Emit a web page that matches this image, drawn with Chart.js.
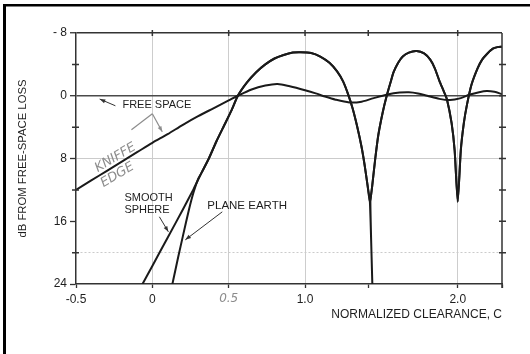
<!DOCTYPE html>
<html>
<head>
<meta charset="utf-8">
<script src="https://cdn.jsdelivr.net/npm/chart.js@4/dist/chart.umd.min.js"></script>
<style>
  html, body { margin: 0; padding: 0; background: #fff; }
  #wrap { width: 530px; height: 354px; }
</style>
</head>
<body>
<div id="wrap"><canvas id="chart" width="530" height="354"></canvas></div>
<script>
// x: normalized clearance C, y: dB from free-space loss (axis reversed)
const xTicks = [-0.5, 0, 0.5, 1.0, 1.414, 2.0, 2.29];
const xTickLabels = ['-0.5', '0', '0.5', '1.0', '', '2.0', ''];
const yTicks = [-8, -4, 0, 4, 8, 12, 16, 20, 24];
const yTickLabels = ['- 8', '', '0', '', '8', '', '16', '', '24'];

const knifeX = [-0.5, -0.4, -0.3, -0.2, -0.1, 0, 0.1, 0.2, 0.3, 0.4, 0.5, 0.56, 0.65, 0.74, 0.82, 0.9, 1.0, 1.07, 1.13, 1.2,
  1.29, 1.36, 1.45, 1.54, 1.62, 1.68, 1.74, 1.8, 1.88, 1.95, 2.02, 2.08, 2.14, 2.19, 2.24, 2.29];
const knifeY = [12.0, 10.8, 9.6, 8.4, 7.2, 6.0, 4.9, 3.7, 2.6, 1.6, 0.6, 0, -0.8, -1.3, -1.5, -1.2, -0.7, -0.3, 0.1, 0.5,
  0.85, 0.8, 0.3, -0.15, -0.4, -0.45, -0.3, 0, 0.4, 0.55, 0.3, -0.15, -0.45, -0.6, -0.5, -0.2];

const smoothX = [-0.07, 0, 0.1, 0.2, 0.27, 0.32, 0.37, 0.42, 0.47, 0.52, 0.56, 0.62, 0.68, 0.74, 0.8, 0.86, 0.92, 0.97, 1.04, 1.1,
  1.16, 1.21, 1.25, 1.28, 1.31, 1.34, 1.37, 1.39, 1.41, 1.425, 1.44, 1.46, 1.48, 1.51, 1.535, 1.56, 1.58, 1.61, 1.64, 1.68,
  1.73, 1.78, 1.82, 1.85, 1.88, 1.91, 1.93, 1.96, 1.98, 2.0, 2.02, 2.04, 2.06, 2.09, 2.13, 2.16, 2.19, 2.23, 2.26, 2.29];
const smoothY = [24.2, 21.7, 18.1, 14.5, 11.9, 9.9, 8.0, 5.8, 3.8, 1.8, 0, -1.7, -3.0, -4.0, -4.75, -5.2, -5.5, -5.55, -5.45, -5.0,
  -4.2, -3.1, -1.8, -0.3, 1.5, 3.8, 6.5, 8.8, 11.5, 13.6, 11.5, 8.0, 5.0, 2.0, 0, -1.7, -3.0, -4.2, -5.0, -5.5,
  -5.7, -5.4, -4.6, -3.5, -1.9, -0.5, 0.5, 3.5, 7.0, 13.5, 7.0, 3.5, 1.2, -1.4, -3.5, -4.6, -5.3, -6.0, -6.2, -6.25];

const planeX = [0.128, 0.17, 0.2, 0.24, 0.27, 0.3, 0.32, 0.37, 0.42, 0.47, 0.52, 0.56, 0.62, 0.68, 0.74, 0.8, 0.86, 0.92, 0.97, 1.04,
  1.1, 1.16, 1.21, 1.25, 1.28, 1.31, 1.34, 1.37, 1.39, 1.41, 1.425, 1.445, 1.428, 1.44, 1.46, 1.48, 1.51, 1.535, 1.56, 1.58,
  1.61, 1.64, 1.68, 1.73, 1.78, 1.82, 1.85, 1.88, 1.91, 1.93, 1.96, 1.98, 2.0, 2.02, 2.04, 2.06, 2.09, 2.13, 2.16, 2.19,
  2.23, 2.26, 2.29];
const planeY = [24.3, 20.5, 17.9, 14.5, 12.3, 10.6, 9.9, 8.0, 5.8, 3.8, 1.8, 0, -1.7, -3.0, -4.0, -4.75, -5.2, -5.5, -5.55, -5.45,
  -5.0, -4.2, -3.1, -1.8, -0.3, 1.5, 3.8, 6.5, 8.8, 11.5, 13.6, 27, 13.6, 11.5, 8.0, 5.0, 2.0, 0, -1.7, -3.0,
  -4.2, -5.0, -5.5, -5.7, -5.4, -4.6, -3.5, -1.9, -0.5, 0.5, 3.5, 7.0, 13.5, 7.0, 3.5, 1.2, -1.4, -3.5, -4.6, -5.3,
  -6.0, -6.2, -6.25];

const FONT = '"Liberation Sans", Arial, sans-serif';
const HAND = '"DejaVu Sans", sans-serif';
const CLEAR = 'rgba(0,0,0,0)';

function pts(xs, ys) {
  return xs.map((x, i) => ({ x: x, y: ys[i] }));
}

function arrow(ctx, x1, y1, x2, y2, head) {
  ctx.beginPath();
  ctx.moveTo(x1, y1);
  ctx.lineTo(x2, y2);
  ctx.stroke();
  if (!head) return;
  const ang = Math.atan2(y2 - y1, x2 - x1), h = 6;
  ctx.beginPath();
  ctx.moveTo(x2, y2);
  ctx.lineTo(x2 - h * Math.cos(ang - 0.35), y2 - h * Math.sin(ang - 0.35));
  ctx.lineTo(x2 - h * Math.cos(ang + 0.35), y2 - h * Math.sin(ang + 0.35));
  ctx.closePath();
  ctx.fill();
}

// frame, right axis, extra ticks, titles and the hand notes
const decor = {
  id: 'decor',
  beforeDraw(chart) {
    const ctx = chart.ctx;
    ctx.save();
    ctx.fillStyle = '#fff';
    ctx.fillRect(0, 0, chart.width, chart.height);
    ctx.restore();
  },
  afterDraw(chart) {
    const { ctx, chartArea: a, scales: { x, y } } = chart;
    const X = v => x.getPixelForValue(v);
    const Y = v => y.getPixelForValue(v);
    ctx.save();

    ctx.fillStyle = '#000';
    ctx.fillRect(3, 4, 3, chart.height - 4);
    ctx.fillRect(3, 4, chart.width - 3, 2.5);

    ctx.strokeStyle = '#333';
    ctx.lineWidth = 1.5;
    ctx.beginPath();
    ctx.moveTo(a.right, a.top);
    ctx.lineTo(a.right, a.bottom + 4);
    yTicks.slice(1, -1).forEach(v => { ctx.moveTo(a.right - 3, Y(v)); ctx.lineTo(a.right + 4, Y(v)); });
    xTicks.slice(1, -1).forEach(v => { ctx.moveTo(X(v), a.top - 3); ctx.lineTo(X(v), a.top + 3); });
    yTicks.forEach((v, i) => {
      if (!yTickLabels[i]) { ctx.moveTo(a.left - 4, Y(v)); ctx.lineTo(a.left + 3, Y(v)); }
    });
    ctx.stroke();

    ctx.fillStyle = '#1e1e1e';
    ctx.textBaseline = 'middle';
    ctx.font = '12px ' + FONT;
    ctx.textAlign = 'right';
    ctx.fillText('NORMALIZED CLEARANCE, C', a.right, 315);

    ctx.save();
    ctx.translate(22.5, (a.top + a.bottom) / 2);
    ctx.rotate(-Math.PI / 2);
    ctx.textAlign = 'center';
    ctx.font = '11.3px ' + FONT;
    ctx.fillText('dB FROM FREE-SPACE LOSS', 0, 0);
    ctx.restore();

    ctx.textAlign = 'left';
    ctx.font = '11px ' + FONT;
    ctx.fillText('FREE SPACE', X(-0.196), Y(1.15));
    ctx.fillText('SMOOTH', X(-0.183), Y(13.0));
    ctx.fillText('SPHERE', X(-0.183), Y(14.6));
    ctx.font = '11.5px ' + FONT;
    ctx.fillText('PLANE EARTH', X(0.36), Y(14.0));

    ctx.strokeStyle = '#333';
    ctx.fillStyle = '#333';
    ctx.lineWidth = 1;
    arrow(ctx, X(-0.242), Y(1.28), X(-0.345), Y(0.42), true);
    arrow(ctx, X(0.046), Y(15.43), X(0.105), Y(17.35), true);
    arrow(ctx, X(0.458), Y(14.8), X(0.216), Y(18.37), true);

    ctx.strokeStyle = '#8c8c8c';
    ctx.fillStyle = '#8c8c8c';
    ctx.lineWidth = 1.2;
    arrow(ctx, X(0), Y(2.3), X(-0.137), Y(4.34), false);
    arrow(ctx, X(0), Y(2.3), X(0.065), Y(4.6), true);

    ctx.font = 'italic 13px ' + HAND;
    ctx.textAlign = 'center';
    [['KNIFFE', -0.242, 7.9], ['EDGE', -0.229, 10.1]].forEach(t => {
      ctx.save();
      ctx.translate(X(t[1]), Y(t[2]));
      ctx.rotate(-0.54);
      ctx.fillText(t[0], 0, 0);
      ctx.restore();
    });

    ctx.restore();
  }
};

new Chart(document.getElementById('chart'), {
  type: 'scatter',
  data: {
    datasets: [
      { label: 'Knife edge', data: pts(knifeX, knifeY), tension: 0.3 },
      { label: 'Smooth sphere', data: pts(smoothX, smoothY), tension: 0.2 },
      { label: 'Plane earth', data: pts(planeX, planeY), tension: 0.2 }
    ]
  },
  options: {
    responsive: false,
    animation: false,
    showLine: true,
    layout: { padding: { top: 33, right: 28, left: 0, bottom: 0 } },
    elements: {
      point: { radius: 0 },
      line: { borderWidth: 2, borderColor: '#1a1a1a' }
    },
    plugins: { legend: { display: false }, tooltip: { enabled: false } },
    scales: {
      x: {
        type: 'linear', min: -0.5, max: 2.29,
        afterBuildTicks: s => { s.ticks = xTicks.map(v => ({ value: v })); },
        afterFit: s => { s.height = 70; },
        ticks: {
          autoSkip: false, maxRotation: 0, padding: 4,
          color: c => c.index === 2 ? '#8c8c8c' : '#1e1e1e',
          font: c => c.index === 2 ? { family: HAND, size: 12, style: 'italic' } : { family: FONT, size: 12 },
          callback: (v, i) => xTickLabels[i]
        },
        grid: {
          color: c => (c.tick && [0, 0.5, 1, 2].includes(c.tick.value)) ? '#cdcdcd' : CLEAR,
          tickLength: 4, tickColor: '#333', tickWidth: 1.3
        },
        border: { color: '#333', width: 1.5 }
      },
      y: {
        type: 'linear', reverse: true, min: -8, max: 24,
        afterBuildTicks: s => { s.ticks = yTicks.map(v => ({ value: v })); },
        afterFit: s => { s.width = 76; },
        ticks: {
          autoSkip: false, padding: 3, color: '#1e1e1e',
          font: { family: FONT, size: 12 },
          callback: (v, i) => yTickLabels[i]
        },
        grid: {
          color: c => {
            const v = c.tick && c.tick.value;
            if (v === -8) return '#333';
            if (v === 0) return '#4a4a4a';
            if (v === 8 || v === 20) return '#cbcbcb';
            return CLEAR;
          },
          lineWidth: c => {
            const v = c.tick && c.tick.value;
            return v === -8 ? 1.5 : v === 0 ? 1.4 : 1;
          },
          tickLength: 6,
          tickColor: c => (c.tick && yTickLabels[c.index]) ? '#333' : CLEAR,
          tickWidth: 1.3
        },
        border: {
          color: '#333', width: 1.5,
          dash: c => (c.tick && c.tick.value === 20) ? [2, 2] : []
        }
      }
    }
  },
  plugins: [decor]
});
</script>
</body>
</html>
